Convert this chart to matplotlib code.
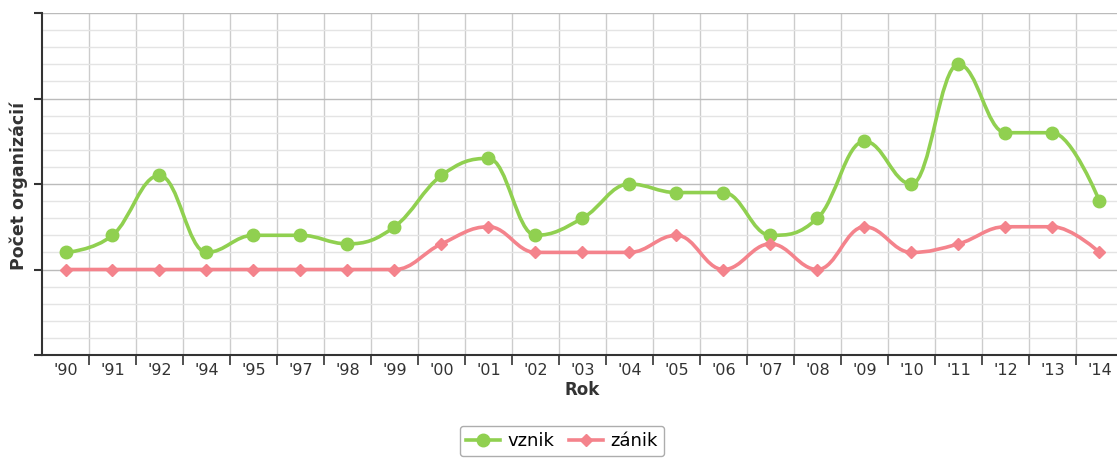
import matplotlib
matplotlib.use("Agg")
import matplotlib.pyplot as plt
from matplotlib.path import Path
from matplotlib.patches import PathPatch
from matplotlib.ticker import MultipleLocator
from matplotlib.lines import Line2D

# data
roky = ["'90", "'91", "'92", "'94", "'95", "'97", "'98", "'99", "'00", "'01", "'02", "'03",
        "'04", "'05", "'06", "'07", "'08", "'09", "'10", "'11", "'12", "'13", "'14"]
vznik = [2, 4, 11, 2, 4, 4, 3, 5, 11, 13, 4, 6, 10, 9, 9, 4, 6, 15, 10, 24, 16, 16, 8]
zanik = [0, 0, 0, 0, 0, 0, 0, 0, 3, 5, 2, 2, 2, 4, 0, 3, 0, 5, 2, 3, 5, 5, 2]

GREEN = '#90d050'
PINK = '#f4838c'


def spline_path(xs, ys, smoothing=1.5):
    # bezier spline, smooth like a highcharts spline
    n = len(xs)
    left = [None] * n
    right = [None] * n
    for i in range(n):
        x, y = xs[i], ys[i]
        if 0 < i < n - 1:
            lx, ly = xs[i - 1], ys[i - 1]
            nx, ny = xs[i + 1], ys[i + 1]
            d = smoothing + 1
            lcx = (smoothing * x + lx) / d
            lcy = (smoothing * y + ly) / d
            rcx = (smoothing * x + nx) / d
            rcy = (smoothing * y + ny) / d
            if rcx != lcx:
                corr = (rcy - lcy) * (rcx - x) / (rcx - lcx) + y - rcy
                lcy += corr
                rcy += corr
            if lcy > ly and lcy > y:
                lcy = max(ly, y)
                rcy = 2 * y - lcy
            elif lcy < ly and lcy < y:
                lcy = min(ly, y)
                rcy = 2 * y - lcy
            if rcy > ny and rcy > y:
                rcy = max(ny, y)
                lcy = 2 * y - rcy
            elif rcy < ny and rcy < y:
                rcy = min(ny, y)
                lcy = 2 * y - rcy
            left[i] = (lcx, lcy)
            right[i] = (rcx, rcy)
        else:
            left[i] = (x, y)
            right[i] = (x, y)
    verts = [(xs[0], ys[0])]
    codes = [Path.MOVETO]
    for i in range(1, n):
        verts += [right[i - 1], left[i], (xs[i], ys[i])]
        codes += [Path.CURVE4] * 3
    return Path(verts, codes)


fig = plt.figure(figsize=(11.17, 4.58), dpi=100)
ax = fig.add_axes([42 / 1117, 1 - 355 / 458, 1081 / 1117, 342 / 458])

x = list(range(len(roky)))

ax.add_patch(PathPatch(spline_path(x, vznik), fill=False, edgecolor=GREEN, lw=2.6, zorder=3,
                       capstyle='round', joinstyle='round'))
ax.add_patch(PathPatch(spline_path(x, zanik), fill=False, edgecolor=PINK, lw=2.6, zorder=3,
                       capstyle='round', joinstyle='round'))
ax.plot(x, vznik, 'o', color=GREEN, ms=9, zorder=4)
ax.plot(x, zanik, 'D', color=PINK, ms=6.5, zorder=4)

ax.set_xlim(-0.5, len(roky) - 0.5)
ax.set_ylim(-10, 30)

# vertical grid between categories
ax.set_xticks([i + 0.5 for i in range(len(roky) - 1)])
ax.set_xticklabels([])
ax.set_xticks(x, minor=True)
ax.set_xticklabels(roky, minor=True, fontsize=11.5, color='#333333')
ax.tick_params(axis='x', which='major', length=7, width=1.2, color='#333333', direction='out')
ax.tick_params(axis='x', which='minor', length=0, pad=6)
ax.xaxis.grid(True, which='major', color='#cccccc', lw=1)

ax.yaxis.set_major_locator(MultipleLocator(10))
ax.yaxis.set_minor_locator(MultipleLocator(2))
ax.set_yticklabels([])
ax.tick_params(axis='y', which='major', length=6, width=1.5, color='#333333', direction='out')
ax.tick_params(axis='y', which='minor', length=0)
ax.yaxis.grid(True, which='major', color='#bbbbbb', lw=1)
ax.yaxis.grid(True, which='minor', color='#e4e4e4', lw=1)
ax.set_axisbelow(True)

for s in ['top', 'right']:
    ax.spines[s].set_visible(False)
ax.spines['left'].set_color('#333333')
ax.spines['left'].set_linewidth(1.5)
ax.spines['bottom'].set_color('#333333')
ax.spines['bottom'].set_linewidth(1.5)

ax.set_xlabel('Rok', fontsize=12, fontweight='bold', color='#333333', labelpad=2)
ax.set_ylabel('Počet organizácií', fontsize=12.5, fontweight='bold', color='#333333')
ax.yaxis.set_label_coords(-0.013, 0.494)

handles = [Line2D([], [], color=GREEN, lw=2.6, marker='o', ms=9),
           Line2D([], [], color=PINK, lw=2.6, marker='D', ms=6.5)]
leg = fig.legend(handles, ['vznik', 'zánik'], loc='center', bbox_to_anchor=(562 / 1117, 1 - 441 / 458),
                 ncol=2, fontsize=13, frameon=True, fancybox=True, handlelength=1.9,
                 handletextpad=0.4, columnspacing=0.8, borderpad=0.35)
leg.get_frame().set_edgecolor('#999999')
leg.get_frame().set_linewidth(1)

fig.savefig('out.png', dpi=100)
